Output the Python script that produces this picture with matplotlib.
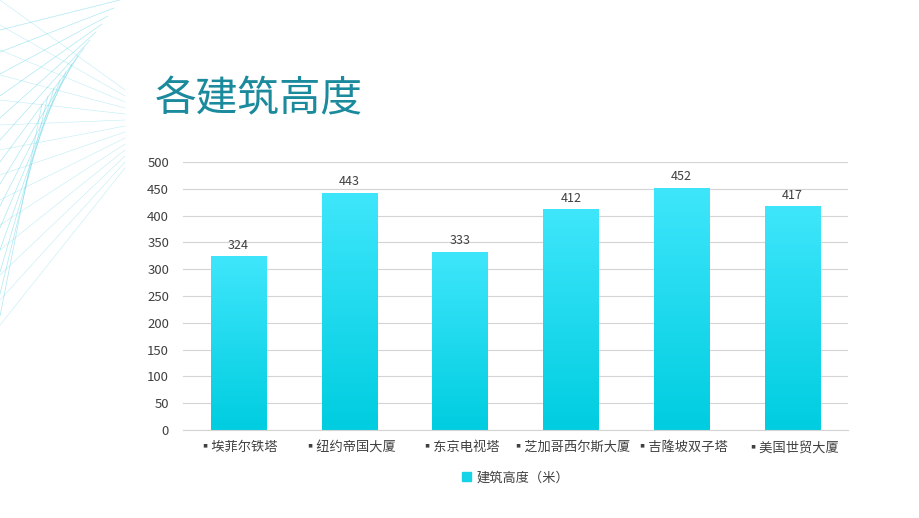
import numpy as np
import matplotlib.pyplot as plt
from matplotlib import font_manager
from matplotlib.patches import Rectangle

cjk = [f.name for f in font_manager.fontManager.ttflist if "CJK" in f.name]
cjk_name = "Noto Sans CJK SC" if "Noto Sans CJK SC" in cjk else (cjk[0] if cjk else "DejaVu Sans")
plt.rcParams["font.family"] = "sans-serif"
plt.rcParams["font.sans-serif"] = [cjk_name, "DejaVu Sans"]

buildings = ["埃菲尔铁塔", "纽约帝国大厦", "东京电视塔", "芝加哥西尔斯大厦", "吉隆坡双子塔", "美国世贸大厦"]
heights = [324, 443, 333, 412, 452, 417]
yticks = [0, 50, 100, 150, 200, 250, 300, 350, 400, 450, 500]

fig = plt.figure(figsize=(9.2, 5.18), dpi=100)

# faint wireframe decoration in the top-left corner
deco = fig.add_axes([0, 0, 1, 1], zorder=-1)
deco.set_xlim(0, 920); deco.set_ylim(518, 0); deco.axis("off")
for i in range(14):
    deco.plot([0, 120 - i * 6], [30 + i * 22, 0 + i * 8], color="#5fd3e6", lw=0.5, alpha=0.5)
    deco.plot([0, 125], [i * 25, 90 + i * 6], color="#5fd3e6", lw=0.4, alpha=0.4)

fig.text(155 / 920, 1 - 100 / 518, "各建筑高度", fontsize=30, color="#1a8a9c", va="center")

ax = fig.add_axes([183 / 920, 1 - 430 / 518, 665 / 920, 268 / 518])
x = np.arange(len(buildings))
ax.set_xlim(-0.5, len(buildings) - 0.5)
ax.set_ylim(0, 500)
ax.set_yticks(yticks)
ax.grid(axis="y", color="#d4d4d4", lw=0.8)
ax.set_axisbelow(True)

grad = np.linspace(0, 1, 256).reshape(-1, 1)
cmap = plt.matplotlib.colors.LinearSegmentedColormap.from_list("g", ["#00cde0", "#3fe6fb"])
for xi, h in zip(x, heights):
    im = ax.imshow(grad, extent=[xi - 0.25, xi + 0.25, 0, h], origin="lower",
                   cmap=cmap, aspect="auto", zorder=2)
    r = Rectangle((xi - 0.25, 0), 0.5, h, transform=ax.transData, fill=False, lw=0)
    ax.add_patch(r)
    im.set_clip_path(r)
    ax.text(xi, h + 8, str(h), ha="center", va="bottom", fontsize=9, color="#404040")

ax.set_xticks(x)
ax.set_xticklabels(["▪" + b for b in buildings], fontsize=9.5, color="#404040")
for s in ["top", "right", "left"]:
    ax.spines[s].set_visible(False)
ax.spines["bottom"].set_color("#d4d4d4")
ax.tick_params(length=0, labelsize=9.5, colors="#404040", pad=8)
ax.tick_params(axis="y", pad=10)

ax.legend(handles=[Rectangle((0, 0), 1, 1, color="#16d3e8")], labels=["建筑高度（米）"],
          loc="upper center", bbox_to_anchor=(0.5, -0.11), frameon=False, fontsize=9.5,
          handlelength=0.7, handleheight=0.7, handletextpad=0.4, labelcolor="#404040")

fig.savefig("out.png", dpi=100)
